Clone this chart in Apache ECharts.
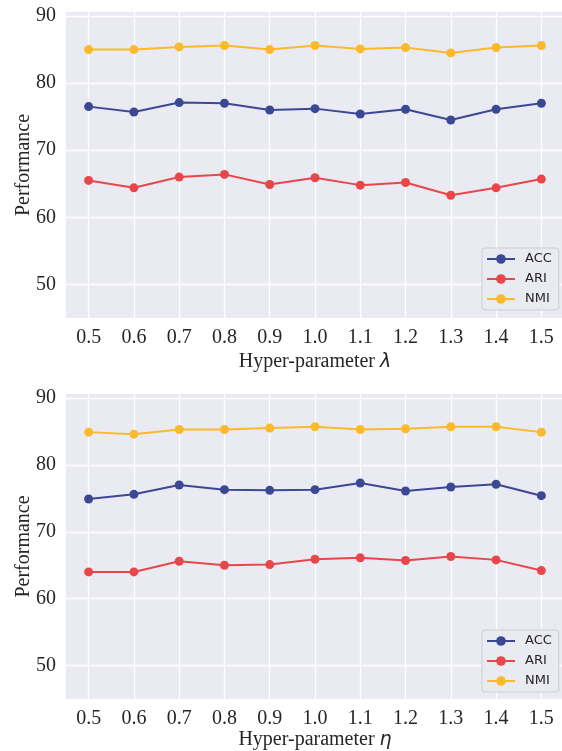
<!DOCTYPE html>
<html>
<head>
<meta charset="utf-8">
<script src="https://cdn.jsdelivr.net/npm/echarts@6/dist/echarts.min.js"></script>
<style>html,body{margin:0;padding:0;background:#fff}#c{width:562px;height:751px}</style>
</head>
<body>
<div id="c"></div>
<script>
const xValues = [0.5, 0.6, 0.7, 0.8, 0.9, 1.0, 1.1, 1.2, 1.3, 1.4, 1.5];
const yTicks = [50, 60, 70, 80, 90];
const seriesNames = ['ACC', 'ARI', 'NMI'];
const accLambda = [76.5, 75.7, 77.1, 77.0, 76.0, 76.2, 75.4, 76.1, 74.5, 76.1, 77.0];
const ariLambda = [65.5, 64.4, 66.0, 66.4, 64.9, 65.9, 64.8, 65.2, 63.3, 64.4, 65.7];
const nmiLambda = [85.0, 85.0, 85.4, 85.6, 85.0, 85.6, 85.1, 85.3, 84.5, 85.3, 85.6];
const accEta = [74.9, 75.6, 77.0, 76.3, 76.2, 76.3, 77.3, 76.1, 76.7, 77.1, 75.4];
const ariEta = [64.0, 64.0, 65.6, 65.0, 65.1, 65.9, 66.1, 65.7, 66.3, 65.8, 64.2];
const nmiEta = [84.9, 84.6, 85.3, 85.3, 85.5, 85.7, 85.3, 85.4, 85.7, 85.7, 84.9];

const colors = {ACC: '#3b4994', ARI: '#e8474a', NMI: '#fbb92c'};
const serif = '"Liberation Serif", "Times New Roman", serif';
const textColor = '#262626';

function pairs(ys) { return xValues.map((x, i) => [x, ys[i]]); }

function xAxis(gridIndex, letter, gap) {
  return {
    type: 'value', gridIndex, min: 0.45, max: 1.55,
    axisLine: {show: false},
    axisTick: {show: false, customValues: xValues},
    axisLabel: {customValues: xValues, formatter: v => v.toFixed(1), fontFamily: serif, fontSize: 20, color: textColor, margin: 10},
    splitLine: {show: true, lineStyle: {color: '#ffffff', width: 1.3}},
    name: '{t|Hyper-parameter }{g|' + letter + '}',
    nameLocation: 'middle', nameGap: gap,
    nameMoveOverlap: false,
    nameTextStyle: {
      rich: {
        t: {fontFamily: serif, fontSize: 20, color: textColor},
        g: {fontFamily: '"DejaVu Sans", sans-serif', fontStyle: 'italic', fontSize: 19, color: textColor}
      }
    }
  };
}
function yAxis(gridIndex) {
  return {
    type: 'value', gridIndex, min: 45, max: 90.6,
    axisLine: {show: false},
    axisTick: {show: false, customValues: yTicks},
    axisLabel: {customValues: yTicks, fontFamily: serif, fontSize: 20, color: textColor, margin: 10},
    splitLine: {show: true, lineStyle: {color: '#ffffff', width: 1.3}},
    name: 'Performance', nameLocation: 'middle', nameGap: 32,
    nameMoveOverlap: false,
    nameTextStyle: {fontFamily: serif, fontSize: 20, color: textColor}
  };
}
function series(name, ys, idx) {
  return {
    name, type: 'line', xAxisIndex: idx, yAxisIndex: idx,
    data: pairs(ys), symbol: 'circle', symbolSize: 9,
    itemStyle: {color: colors[name]},
    lineStyle: {color: colors[name], width: 2},
    emphasis: {disabled: true}
  };
}
function legend(top) {
  return {
    data: seriesNames, orient: 'vertical', left: 482, top,
    padding: [4, 7, 4, 4], itemWidth: 28, itemHeight: 12, itemGap: 6,
    backgroundColor: '#eaeaf2', borderColor: '#cdcdd4', borderWidth: 1, borderRadius: 3,
    textStyle: {fontFamily: '"DejaVu Sans", sans-serif', fontSize: 13, color: textColor, lineHeight: 14, padding: [0, 0, 0, 5]},
    selectedMode: false
  };
}

const chart = echarts.init(document.getElementById('c'), null, {renderer: 'canvas'});
chart.setOption({
  animation: false,
  grid: [
    {left: 66, top: 12, width: 498, height: 306, backgroundColor: '#eaeaf2', show: true, borderWidth: 0, outerBoundsMode: 'none', containLabel: false},
    {left: 66, top: 394, width: 498, height: 305, backgroundColor: '#eaeaf2', show: true, borderWidth: 0, outerBoundsMode: 'none', containLabel: false}
  ],
  xAxis: [xAxis(0, 'λ', 34), xAxis(1, 'η', 31)],
  yAxis: [yAxis(0), yAxis(1)],
  legend: [legend(248), legend(630)],
  series: [
    series('ACC', accLambda, 0), series('ARI', ariLambda, 0), series('NMI', nmiLambda, 0),
    series('ACC', accEta, 1), series('ARI', ariEta, 1), series('NMI', nmiEta, 1)
  ]
});
</script>
</body>
</html>
